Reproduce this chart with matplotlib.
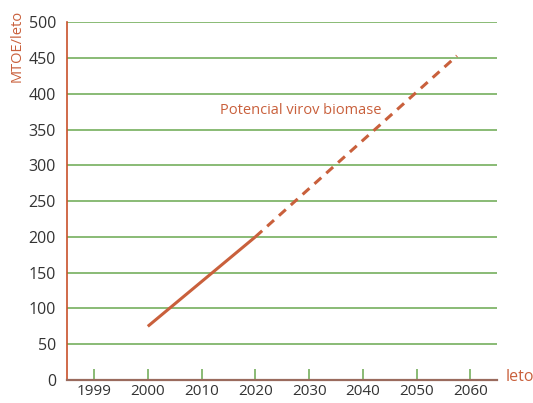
import numpy as np
import matplotlib
matplotlib.use('Agg')
import matplotlib.pyplot as plt

plt.rcParams['font.family'] = ['Open Sans', 'DejaVu Sans']

# podatki
leta = [1999, 2000, 2010, 2020, 2030, 2040, 2050, 2060]
leta_polno = [2000, 2020]
vrednosti_polno = [75, 200]
leta_crtkano = [2020, 2057.5]
vrednosti_crtkano = [200, 453]
y_ticki = np.arange(0, 501, 50)


def poz(leto):
    # os x je kategorijska: 1999 je prva, nato po desetletjih
    leto = np.asarray(leto, dtype=float)
    return np.where(leto < 2000, 0.0, (leto - 2000) / 10 + 1)


ORANZNA = '#c9603c'
ZELENA = '#6aa84f'

fig, ax = plt.subplots(figsize=(5.33, 4.03), dpi=100)
fig.subplots_adjust(left=0.126, right=0.933, top=0.945, bottom=0.057)

for y in y_ticki[1:]:
    ax.axhline(y, color=ZELENA, lw=1.1, zorder=1)

ax.plot(poz(leta_polno), vrednosti_polno, color=ORANZNA, lw=2.2,
        solid_capstyle='butt', zorder=3)
ax.plot(poz(leta_crtkano), vrednosti_crtkano, color=ORANZNA, lw=2.2,
        ls=(0, (3, 2.2)), zorder=3)

ax.set_xlim(-0.5, 7.5)
ax.set_ylim(0, 500)
ax.set_xticks(poz(leta))
ax.set_xticklabels([str(l) for l in leta])
ax.set_yticks(y_ticki)

ax.tick_params(axis='x', direction='in', length=8, width=1.1, color=ZELENA,
               labelsize=11, labelcolor='#333333', pad=3)
ax.tick_params(axis='y', length=0, labelsize=11.5, labelcolor='#333333', pad=8)

for s in ['top', 'right']:
    ax.spines[s].set_visible(False)
ax.spines['left'].set_color('#c8502a')
ax.spines['left'].set_linewidth(1.2)
ax.spines['bottom'].set_color('#9a6b5e')
ax.spines['bottom'].set_linewidth(1.6)

ax.text(poz(2028.5), 377, 'Potencial virov biomase', color=ORANZNA,
        fontsize=10.5, ha='center', va='center')

fig.text(0.032, 0.885, 'MTOE/leto', rotation=90, color=ORANZNA,
         fontsize=10.5, ha='center', va='center')
fig.text(0.975, 0.064, 'leto', color=ORANZNA, fontsize=11.5,
         ha='center', va='center')

fig.savefig('out.png', dpi=100)
